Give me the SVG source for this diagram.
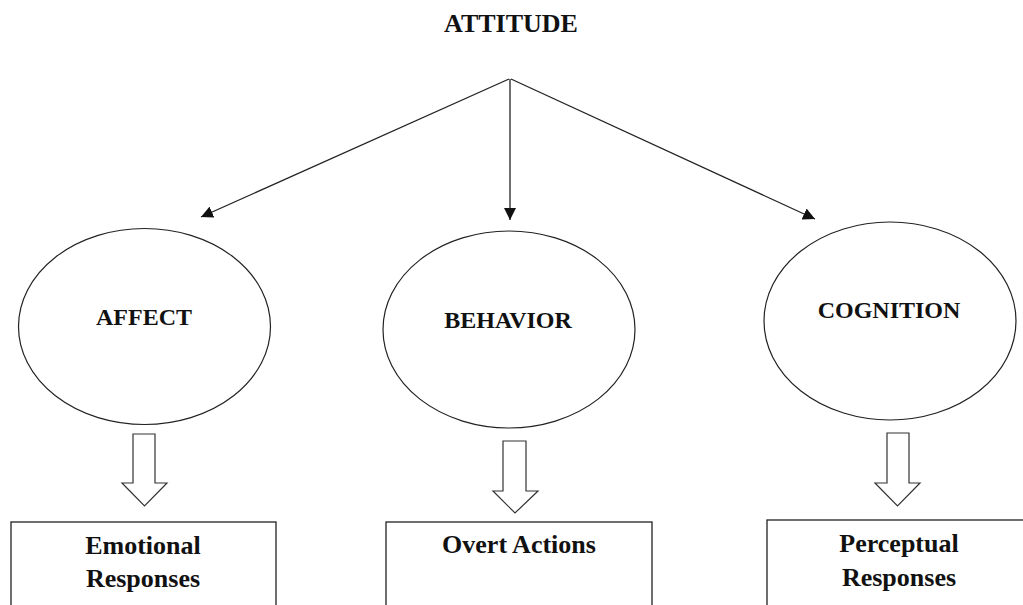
<svg xmlns="http://www.w3.org/2000/svg" width="1023" height="605" viewBox="0 0 1023 605">
<style>
text{font-family:"Liberation Serif","Times New Roman",serif;font-weight:bold;fill:#111;text-anchor:middle}
.t{font-size:26px}
.n{font-size:24px}
.b{font-size:26px}
.e{fill:#fff;stroke:#222;stroke-width:1.2}
.r{fill:#fff;stroke:#222;stroke-width:1.3}
.c{fill:none;stroke:#222;stroke-width:1.3}
.ba{fill:#fff;stroke:#333;stroke-width:1.2}
</style>
<defs>
<marker id="ah" viewBox="0 0 12 12" refX="12" refY="6" markerWidth="12" markerHeight="12" markerUnits="userSpaceOnUse" orient="auto">
<path d="M0,0 L12,6 L0,12 Z" fill="#111"/>
</marker>
</defs>
<g id="attitude"><text class="t" x="511" y="32">ATTITUDE</text></g>
<g id="connectors">
<line class="c" x1="509" y1="79" x2="201" y2="217" marker-end="url(#ah)"/>
<line class="c" x1="510" y1="79" x2="510" y2="220" marker-end="url(#ah)"/>
<line class="c" x1="511" y1="79" x2="815" y2="219" marker-end="url(#ah)"/>
<path class="ba" d="M133,434 H155 V483 H167 L144.5,506 L122,483 H133 Z"/>
<path class="ba" d="M503,441 H526 V491 H538 L515,513 L493,491 H503 Z"/>
<path class="ba" d="M887,433 H909 V483 H920 L897.5,506 L875,483 H887 Z"/>
</g>
<g id="affect"><ellipse class="e" cx="144.5" cy="326.5" rx="126" ry="98"/><text class="n" x="144" y="325">AFFECT</text></g>
<g id="behavior"><ellipse class="e" cx="509" cy="329.5" rx="126" ry="98.5"/><text class="n" x="508" y="328">BEHAVIOR</text></g>
<g id="cognition"><ellipse class="e" cx="890" cy="321" rx="126" ry="99"/><text class="n" x="889" y="318">COGNITION</text></g>
<g id="emotional"><rect class="r" x="11" y="522" width="265" height="100"/><text class="b" x="143" y="554">Emotional</text><text class="b" x="143" y="587">Responses</text></g>
<g id="overt"><rect class="r" x="386" y="522" width="266" height="100"/><text class="b" x="519" y="553">Overt Actions</text></g>
<g id="perceptual"><rect class="r" x="767" y="520" width="270" height="100"/><text class="b" x="899" y="552">Perceptual</text><text class="b" x="899" y="586">Responses</text></g>
</svg>
